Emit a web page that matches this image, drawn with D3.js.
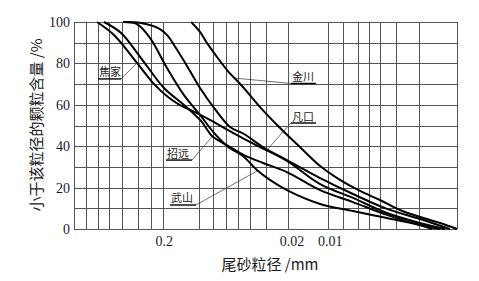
<!DOCTYPE html>
<html lang="zh">
<head>
<meta charset="UTF-8">
<title>尾砂粒径分布</title>
<script src="https://d3js.org/d3.v7.min.js"></script>
<style>
  body { margin: 0; background: #fff; }
  .grid line { stroke: #555; stroke-width: 1; shape-rendering: crispEdges; }
  .curve { fill: none; stroke: #000; stroke-width: 2; }
  .tick-label { font: 14px "Liberation Serif", serif; fill: #1a1a2a; }
  .title { font: 15px "Noto Sans CJK SC", sans-serif; fill: #1a1a1a; }
  .note { font: 11px "Noto Sans CJK SC", sans-serif; fill: #1a1a1a; }
</style>
</head>
<body>
<svg width="479" height="281"></svg>
<script>
// grain size (mm) of the vertical grid lines, and percent for horizontal ones
const sizeGrid = [1, 0.8, 0.65, 0.53, 0.42, 0.315, 0.25, 0.2, 0.104, 0.082, 0.064, 0.052,
                  0.042, 0.0315, 0.021, 0.0102, 0.0078, 0.006, 0.0049, 0.004, 0.003, 0.002, 0.001];
const pctGrid = [0, 10, 20, 30, 40, 50, 60, 70, 80, 90, 100];
const yTicks = [0, 20, 40, 60, 80, 100];
const xTicks = [0.2, 0.02, 0.01];

// [size mm, passing %]
const jiaojia = [[0.66,100],[0.486,93.7],[0.321,80.2],[0.236,70.0],[0.1835,63.8],[0.1478,59.9],
  [0.1128,56.5],[0.0861,52.7],[0.0668,48.8],[0.0466,43.5],[0.0349,39.6],[0.0215,32.9],
  [0.0118,21.7],[0.00653,15.0],[0.00354,7.7],[0.00195,2.9],[0.00124,0]];
const jinchuan = [[0.121,100],[0.103,95.2],[0.091,89.9],[0.0758,83.1],[0.0633,76.8],[0.0475,68.6],
  [0.0349,58.9],[0.0243,48.8],[0.017,39.6],[0.0118,30.4],[0.00825,23.7],[0.00575,18.4],
  [0.00401,14.0],[0.0028,9.2],[0.00195,5.8],[0.00136,2.9],[0.001,0]];
const fankou = [[0.413,100],[0.2986,99.5],[0.212,96.6],[0.1835,93.2],[0.1647,88.9],[0.1375,81.2],
  [0.103,68.1],[0.08,58.5],[0.06,49.3],[0.0466,45.9],[0.0331,39.6],[0.0215,33.3],[0.0118,24.6],
  [0.00653,16.9],[0.00354,9.7],[0.00195,4.8],[0.00114,0]];
const zhaoyuan = [[0.582,100],[0.428,94.7],[0.2986,82.6],[0.1972,68.1],[0.1375,59.9],[0.1012,52.2],
  [0.083,44.9],[0.068,41.5],[0.0579,39.1],[0.0466,35.7],[0.0331,31.9],[0.0215,27.5],[0.0118,18.8],
  [0.00653,13.0],[0.00354,6.8],[0.00195,1.9],[0.00136,0]];
const wushan = [[0.413,100],[0.321,99.0],[0.254,92.3],[0.1868,77.8],[0.1375,64.7],[0.103,55.1],
  [0.08,46.4],[0.0633,40.1],[0.0466,34.8],[0.0369,28.5],[0.0292,23.7],[0.0215,18.8],[0.0118,12.1],
  [0.00653,8.7],[0.00354,5.3],[0.00195,1.9],[0.00157,0]];

const series = [jiaojia, jinchuan, fankou, zhaoyuan, wushan];

// label: name, underline from/to (mm), underline %, leader start side, leader target [mm, %]
const notes = [
  {name: "焦家", from: 0.649, to: 0.428, pct: 72.5, start: "to", target: [0.321, 80.2]},
  {name: "金川", from: 0.02, to: 0.0127, pct: 70.3, start: "from", target: [0.0548, 72.9]},
  {name: "凡口", from: 0.02, to: 0.0127, pct: 51.2, start: "from", target: [0.0308, 38.2]},
  {name: "招远", from: 0.1903, to: 0.119, pct: 33.3, start: "to", target: [0.083, 44.5]},
  {name: "武山", from: 0.177, to: 0.1107, pct: 11.6, start: "to", target: [0.0369, 28]}
];

const svg = d3.select("svg");
const x = d3.scaleLog().domain([1, 0.001]).range([74, 457]);
const y = d3.scaleLinear().domain([0, 100]).range([229, 22]);
const px = v => Math.round(x(v)) + 0.5;
const py = v => Math.round(y(v)) + 0.5;

const grid = svg.append("g").attr("class", "grid");
grid.selectAll(".v").data(sizeGrid).enter().append("line")
    .attr("x1", px).attr("x2", px)
    .attr("y1", y(0)).attr("y2", y(100));
grid.selectAll(".h").data(pctGrid).enter().append("line")
    .attr("x1", x(1)).attr("x2", x(0.001))
    .attr("y1", py).attr("y2", py);

svg.selectAll(".ylab").data(yTicks).enter().append("text")
    .attr("class", "tick-label")
    .attr("x", 70).attr("y", d => y(d) + 5)
    .attr("text-anchor", "end")
    .text(d => d);

svg.selectAll(".xlab").data(xTicks).enter().append("text")
    .attr("class", "tick-label")
    .attr("x", d => x(d) + 1).attr("y", 246)
    .attr("text-anchor", "middle")
    .text(d => d);

const line = d3.line()
    .x(d => x(d[0]))
    .y(d => y(d[1]))
    .curve(d3.curveCatmullRom.alpha(0.5));

svg.selectAll(".curve").data(series).enter().append("path")
    .attr("class", "curve")
    .attr("d", line);

// leader lines and labels
notes.forEach(n => {
    const g = svg.append("g");
    const x0 = x(n.from), x1 = x(n.to), yy = y(n.pct);
    g.append("text").attr("class", "note")
        .attr("x", x0 + 1).attr("y", yy - 2.5)
        .text(n.name);
    g.append("line")
        .attr("x1", x0).attr("x2", x1)
        .attr("y1", yy).attr("y2", yy)
        .attr("stroke", "#000").attr("stroke-width", 1.4);
    const sx = n.start === "to" ? x1 : x0;
    g.append("line")
        .attr("x1", sx).attr("y1", yy)
        .attr("x2", x(n.target[0])).attr("y2", y(n.target[1]))
        .attr("stroke", "#333").attr("stroke-width", 0.7);
});

svg.append("text").attr("class", "title")
    .attr("transform", "translate(42,125) rotate(-90)")
    .attr("text-anchor", "middle")
    .text("小于该粒径的颗粒含量 /%");

svg.append("text").attr("class", "title")
    .attr("x", 270).attr("y", 270)
    .attr("text-anchor", "middle")
    .text("尾砂粒径 /mm");
</script>
</body>
</html>
